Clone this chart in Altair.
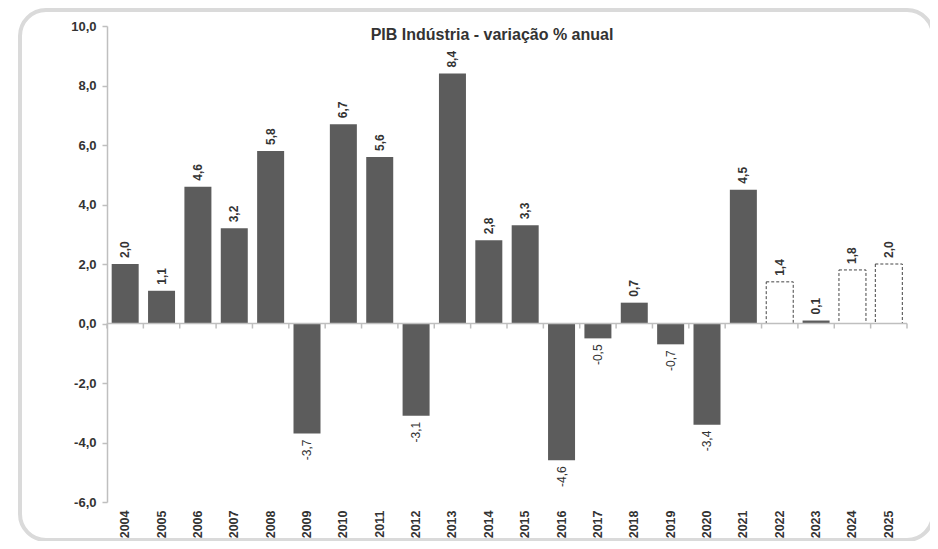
import altair as alt
import pandas as pd

years = [str(y) for y in range(2004, 2026)]
values = [2.0, 1.1, 4.6, 3.2, 5.8, -3.7, 6.7, 5.6, -3.1, 8.4, 2.8, 3.3,
          -4.6, -0.5, 0.7, -0.7, -3.4, 4.5, 1.4, 0.1, 1.8, 2.0]
projected = ["2022", "2024", "2025"]
y_ticks = [-6, -4, -2, 0, 2, 4, 6, 8, 10]
title_text = "PIB Indústria - variação % anual"

df = pd.DataFrame({"year": years, "value": values})
df["proj"] = df["year"].isin(projected)

FONT = "Liberation Sans"
TXT = "#333333"
AX = "#bfbfbf"
BAR = "#5c5c5c"
W, H = 800, 476

lab_expr = "replace(replace(format(datum.value, '.1f'), '.', ','), '\u2212', '-')"

x_enc = alt.X("year:N", sort=years,
              scale=alt.Scale(paddingInner=0, paddingOuter=0),
              axis=alt.Axis(title=None, labelAngle=-90, domain=False, ticks=False,
                            labelPadding=8, labelFontWeight="bold", labelFontSize=12.5,
                            labelFont=FONT, labelColor=TXT))
y_enc = alt.Y("value:Q", scale=alt.Scale(domain=[-6, 10], nice=False, zero=False),
              axis=alt.Axis(title=None, values=y_ticks, grid=False,
                            labelExpr=lab_expr,
                            domainColor=AX, domainWidth=1.5, tickColor=AX, tickWidth=1.5,
                            tickSize=5, labelPadding=6, labelFont=FONT, labelFontSize=13,
                            labelFontWeight="bold", labelColor=TXT))

base = alt.Chart(df)

border = alt.Chart(pd.DataFrame({"a": [0]})).mark_rect(
    cornerRadius=26, fill="white", fillOpacity=0, stroke="#dadada", strokeWidth=4, clip=False
).encode(x=alt.value(-87), x2=alt.value(826), y=alt.value(-16), y2=alt.value(514))

solid = base.transform_filter("!datum.proj").mark_bar(width=27, color=BAR).encode(x=x_enc, y=y_enc)
dashed = base.transform_filter("datum.proj").mark_bar(
    width=27, fill="white", stroke="#444444", strokeDash=[3, 2], strokeWidth=1
).encode(x=x_enc, y=y_enc)

zero = alt.Chart(pd.DataFrame({"a": [0]})).mark_rule(color=AX, strokeWidth=1.5).encode(y=alt.datum(0))

ticks = base.mark_rule(color=AX, strokeWidth=1.5, y2Offset=5).encode(
    x=alt.X("year:N", sort=years, bandPosition=0), y=alt.datum(0), y2=alt.datum(0))
ticks_end = base.transform_filter("datum.year == '2025'").mark_rule(
    color=AX, strokeWidth=1.5, y2Offset=5).encode(
    x=alt.X("year:N", sort=years, bandPosition=1), y=alt.datum(0), y2=alt.datum(0))

pos_labels = base.transform_filter("datum.value >= 0").transform_calculate(lab=lab_expr).mark_text(
    angle=270, align="left", baseline="middle", dx=6, font=FONT, fontSize=12,
    fontWeight="bold", color=TXT
).encode(x=alt.X("year:N", sort=years), y="value:Q", text="lab:N")
neg_labels = base.transform_filter("datum.value < 0").transform_calculate(lab=lab_expr).mark_text(
    angle=270, align="right", baseline="middle", dx=-6, font=FONT, fontSize=12,
    fontWeight="normal", color=TXT
).encode(x=alt.X("year:N", sort=years), y="value:Q", text="lab:N")

chart = alt.layer(border, solid, dashed, zero, ticks, ticks_end, pos_labels, neg_labels).properties(
    width=W, height=H,
    title=alt.TitleParams(title_text, anchor="middle", dx=-15, dy=25, offset=-10, font=FONT,
                          fontSize=16, fontWeight="bold", color=TXT),
    autosize=alt.AutoSizeParams(type="none"),
    padding={"left": 99, "top": 18, "right": 23, "bottom": 39},
).configure_view(stroke=None)

chart.save("out.html", embed_options={"renderer": "svg", "actions": False})
